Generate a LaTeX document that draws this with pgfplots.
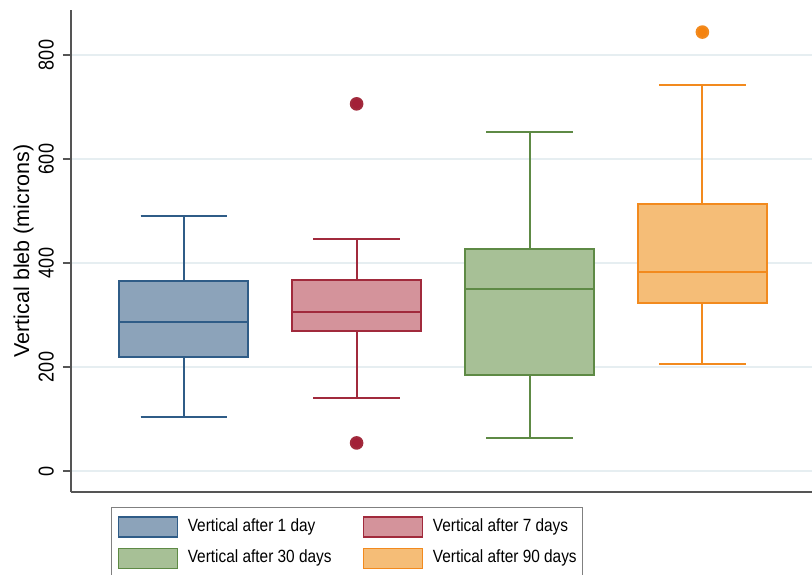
\documentclass[border=0pt]{standalone}
\usepackage{pgfplots}
\pgfplotsset{compat=1.18}
\usepgfplotslibrary{statistics}
\usepackage{fontspec}
\setmainfont{Liberation Sans}
\newfontfamily\tickfont{Liberation Sans}[FakeStretch=0.84]
\newfontfamily\legfont{Liberation Sans}[FakeStretch=0.87]
\definecolor{cA}{HTML}{2F5C87}\definecolor{fA}{HTML}{8CA3BA}
\definecolor{cB}{HTML}{A12A3C}\definecolor{fB}{HTML}{D4939B}
\definecolor{cC}{HTML}{5E8A45}\definecolor{fC}{HTML}{A7C096}
\definecolor{cD}{HTML}{F28A1E}\definecolor{fD}{HTML}{F5BD77}
\definecolor{oB}{HTML}{A31F37}\definecolor{oD}{HTML}{F5830F}
\definecolor{gridc}{HTML}{E6EEF1}
\definecolor{axc}{HTML}{555555}
\pgfplotsset{boxlegend/.style={legend image code/.code={\draw[##1] (0pt,-10pt) rectangle (59pt,10pt);}}}
\begin{document}
\begin{tikzpicture}
\begin{axis}[
  at={(71pt,-492pt)}, anchor=south west,
  scale only axis, width=741pt, height=482pt,
  xmin=0.348, xmax=4.634, ymin=-40.4, ymax=886.5,
  axis x line*=bottom, axis y line*=left,
  axis line style={draw=axc, line width=1.5pt, -},
  xtick=\empty,
  ytick={0,200,400,600,800},
  ymajorgrids, grid style={draw=gridc, line width=1.2pt},
  tick align=outside, major tick length=8pt,
  ytick style={draw=axc, line width=1.5pt},
  /pgf/number format/assume math mode=true,
  yticklabel style={font=\tickfont\fontsize{21.5}{21.5}\selectfont, rotate=90, anchor=south, inner sep=0pt},
  yticklabel shift=9pt,
  ylabel={Vertical bleb (microns)},
  ylabel style={font=\fontsize{21.5}{21.5}\selectfont, at={(axis description cs:-0.0565,0.5)}, anchor=base},
  boxplot/draw direction=y,
  legend columns=2,
  legend cell align=left,
  legend style={at={(axis description cs:0.054,-0.0311)}, anchor=north west,
    draw=gray, line width=1pt, inner xsep=6pt, inner ysep=9pt,
    font=\legfont\fontsize{17.7}{18}\selectfont,
    nodes={inner xsep=0pt, inner ysep=0pt, text height=14pt, text depth=5pt},
    row sep=10pt,
    /tikz/every odd column/.append style={column sep=10pt},
    /tikz/every even column/.append style={column sep=31pt}},
]
\addplot[forget plot, draw=cA, fill=fA, line width=2pt,
  boxplot prepared={draw position=1, lower whisker=104, lower quartile=220,
    median=286, upper quartile=366, upper whisker=491,
    box extend=0.743, whisker extend=0.5}] coordinates {};
\addplot[forget plot, draw=cB, fill=fB, line width=2pt,
  mark=*, mark size=5.8pt, mark options={fill=oB, draw=none},
  boxplot prepared={draw position=2, lower whisker=140, lower quartile=270,
    median=305, upper quartile=368, upper whisker=446,
    box extend=0.743, whisker extend=0.5}]
  table[row sep=\\, y index=0] {data\\ 706\\ 54\\};
\addplot[forget plot, draw=cC, fill=fC, line width=2pt,
  boxplot prepared={draw position=3, lower whisker=64, lower quartile=185,
    median=350, upper quartile=426, upper whisker=651,
    box extend=0.743, whisker extend=0.5}] coordinates {};
\addplot[forget plot, draw=cD, fill=fD, line width=2pt,
  mark=*, mark size=5.8pt, mark options={fill=oD, draw=none},
  boxplot prepared={draw position=4, lower whisker=206, lower quartile=323,
    median=382, upper quartile=513, upper whisker=742,
    box extend=0.743, whisker extend=0.5}]
  table[row sep=\\, y index=0] {data\\ 844\\};
\addlegendimage{boxlegend, draw=cA, fill=fA, line width=1.3pt}
\addlegendentry{Vertical after 1 day}
\addlegendimage{boxlegend, draw=cB, fill=fB, line width=1.3pt}
\addlegendentry{Vertical after 7 days}
\addlegendimage{boxlegend, draw=cC, fill=fC, line width=1.3pt}
\addlegendentry{Vertical after 30 days}
\addlegendimage{boxlegend, draw=cD, fill=fD, line width=1.3pt}
\addlegendentry{Vertical after 90 days}
\end{axis}
\pgfresetboundingbox
\useasboundingbox (0pt,0pt) rectangle (812pt,-575pt);
\end{tikzpicture}
\end{document}
